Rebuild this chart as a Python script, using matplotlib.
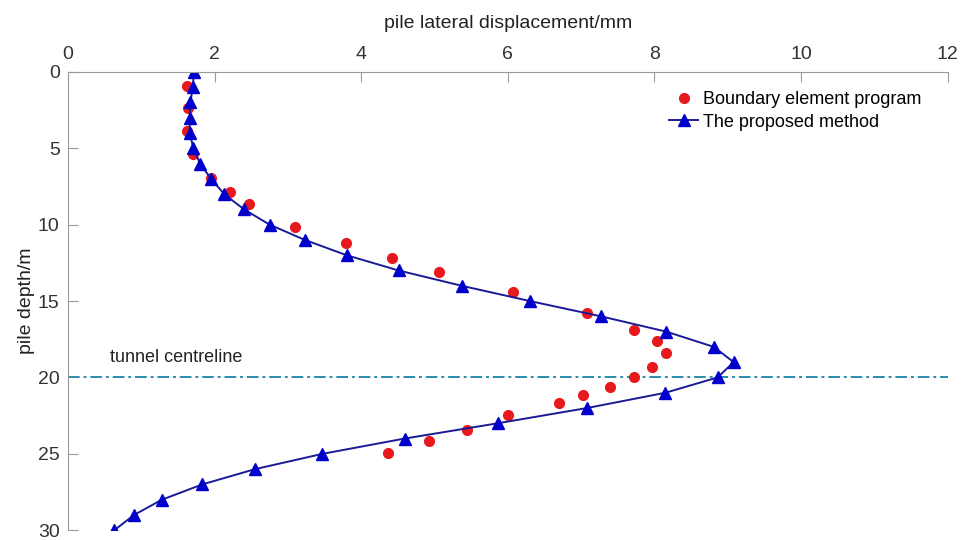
import numpy as np
import matplotlib.pyplot as plt

plt.rcParams['font.family'] = ['Liberation Sans', 'DejaVu Sans']

# boundary element program (red circles)
bem_x = [1.62, 1.63, 1.62, 1.70, 1.95, 2.21, 2.47, 3.10, 3.79, 4.42, 5.06, 6.07,
         7.08, 7.72, 8.04, 8.16, 7.97, 7.72, 7.40, 7.03, 6.70, 6.00, 5.44, 4.93, 4.37]
bem_d = [0.92, 2.34, 3.86, 5.39, 6.92, 7.84, 8.64, 10.13, 11.22, 12.16, 13.08, 14.39,
         15.8, 16.9, 17.6, 18.4, 19.3, 19.95, 20.65, 21.15, 21.7, 22.46, 23.44, 24.17, 24.97]

# proposed method (blue triangles)
pm_d = list(range(31))
pm_x = [1.72, 1.70, 1.67, 1.66, 1.66, 1.71, 1.80, 1.95, 2.13, 2.40, 2.75, 3.23,
        3.80, 4.51, 5.37, 6.30, 7.27, 8.16, 8.81, 9.08, 8.86, 8.15, 7.08, 5.86,
        4.59, 3.47, 2.55, 1.83, 1.28, 0.90, 0.63]

fig, ax = plt.subplots(figsize=(9.72, 5.4), dpi=100)
fig.subplots_adjust(left=0.07, right=0.975, top=0.867, bottom=0.018)

ax.axhline(20, color='#2b8cae', lw=1.4, ls=(0, (6, 2, 1.5, 2)))
ax.plot(bem_x, bem_d, 'o', color='#e8191c', ms=7, ls='none',
        label='Boundary element program')
ax.plot(pm_x, pm_d, '-^', color='#1a1a96', mfc='#0000cc', mec='#0000cc',
        ms=8, lw=1.4, label='The proposed method')
ax.text(0.57, 19.0, 'tunnel centreline', fontsize=13, color='#222222')

ax.set_xlim(0, 12)
ax.set_ylim(30, 0)
ax.xaxis.tick_top()
ax.xaxis.set_label_position('top')
ax.set_xticks(range(0, 13, 2))
ax.set_yticks(range(0, 31, 5))
ax.set_xlabel('pile lateral displacement/mm', fontsize=14, labelpad=13,
              color='#222222')
ax.set_ylabel('pile depth/m', fontsize=14, labelpad=2, color='#222222')
for s in ['right', 'bottom']:
    ax.spines[s].set_visible(False)
for s in ['top', 'left']:
    ax.spines[s].set_color('#9a9a9a')
ax.tick_params(direction='in', length=7, color='#9a9a9a', labelsize=14,
               labelcolor='#333333', pad=6)
ax.legend(loc='upper right', bbox_to_anchor=(0.985, 0.985), frameon=False,
          fontsize=13, handlelength=1.6, handletextpad=0.3, borderaxespad=0.3,
          labelspacing=0.3)

fig.savefig('out.png')
